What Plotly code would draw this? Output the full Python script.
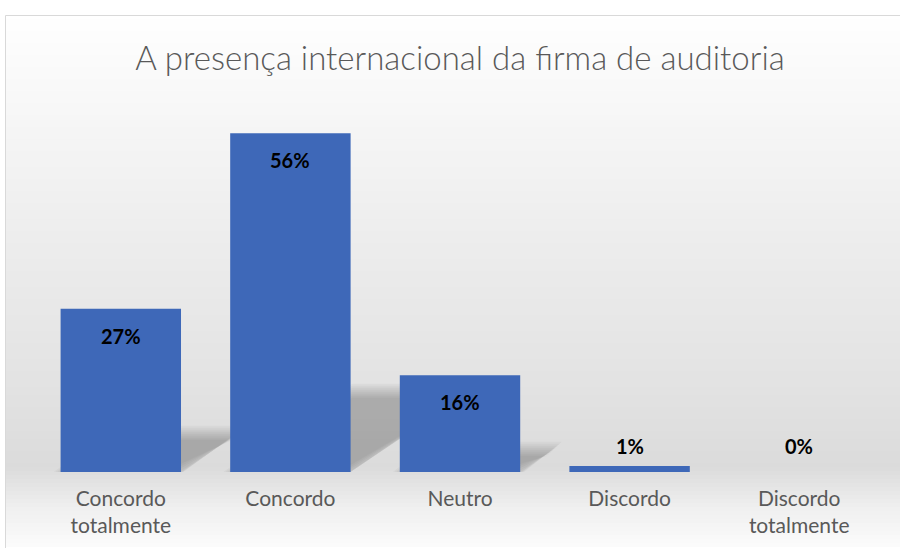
import plotly.graph_objects as go

categories = ["Concordo<br>totalmente", "Concordo", "Neutro", "Discordo", "Discordo<br>totalmente"]
values = [27, 56, 16, 1, 0]
labels = ["27%", "56%", "16%", "1%", "0%"]

# plot area geometry (px) used for the backdrop shapes
W, H = 900, 548
L, R, T, B = 36, 16, 100, 76
plot_h = H - T - B
plot_w = W - L - R
px_per_unit = 6.05
y_top = plot_h / px_per_unit
bargap = 0.29
half = (1 - bargap) / 2


def py(p):
    return (H - B - p) / plot_h


def px(p):
    return (p - L) / plot_w


# soft vertical gradient behind the chart (white -> light grey -> white)
stops = [(15, 255), (120, 246), (250, 236), (380, 227), (468, 219), (480, 225), (510, 240), (548, 252)]


def grey_at(yp):
    for (y0, c0), (y1, c1) in zip(stops, stops[1:]):
        if y0 <= yp <= y1:
            return c0 + (c1 - c0) * (yp - y0) / (y1 - y0)
    return 255


shapes = []
step = 4
for yp in range(15, H, step):
    g = int(round(grey_at(yp + step / 2)))
    shapes.append(dict(type="rect", xref="paper", yref="paper", layer="below",
                       x0=px(5), x1=px(W + 5), y0=py(yp + step), y1=py(yp),
                       fillcolor=f"rgb({g},{g},{g})", line=dict(width=0)))
shapes.append(dict(type="rect", xref="paper", yref="paper", layer="below",
                   x0=px(5.5), x1=px(W + 5), y0=py(H + 5), y1=py(15.5),
                   fillcolor="rgba(0,0,0,0)", line=dict(color="#d9d9d9", width=1)))

# soft perspective shadows cast by the bars onto the back wall (layered to fake a blur)
cat_px = plot_w / len(categories)
for i, v in enumerate(values):
    shp = 0.24 * v * px_per_unit
    if shp < 5:
        continue
    dxp = 1.5 * shp
    x0p, x1p = (i - half) * cat_px, (i + half) * cat_px
    pts = [(x0p, 0), (x1p, 0), (x1p + dxp, shp), (x0p + dxp, shp)]
    cx = sum(p[0] for p in pts) / 4
    cy = sum(p[1] for p in pts) / 4
    span_x = x1p - x0p + dxp
    for o in [7, 5, 3, 1, -1, -3, -5, -7]:
        sx = (span_x + 2 * o) / span_x
        sy = max((shp + 2 * o) / shp, 0.08)
        q = [((cx + (x - cx) * sx) / cat_px, max(cy + (y - cy) * sy, 0) / px_per_unit) for x, y in pts]
        path = "M" + " L".join(f"{a:.4f},{b:.4f}" for a, b in q) + " Z"
        shapes.append(dict(type="path", xref="x", yref="y", layer="below", path=path,
                           fillcolor="rgba(0,0,0,0.03)", line=dict(width=0)))

fig = go.Figure()
fig.add_trace(go.Bar(x=list(range(len(categories))), y=values,
                     marker=dict(color="#3e68b8", line=dict(width=0)),
                     hovertext=categories, hoverinfo="text+y"))

annotations = []
for i, (v, lab) in enumerate(zip(values, labels)):
    shift = -27 if v >= 5 else 26 - v * px_per_unit
    annotations.append(dict(x=i, y=v, text=f"<b>{lab}</b>", showarrow=False, yshift=shift,
                            font=dict(family="Lato", size=20, color="#000000")))

fig.update_layout(
    width=W, height=H,
    margin=dict(l=L, r=R, t=T, b=B),
    paper_bgcolor="white",
    plot_bgcolor="rgba(0,0,0,0)",
    bargap=bargap,
    showlegend=False,
    title=dict(text="A presença internacional da firma de auditoria", xref="paper", x=0.5,
               xanchor="center", y=1 - 58 / H, yanchor="middle",
               font=dict(family="Lato", size=33, color="#595959", weight=300)),
    xaxis=dict(showgrid=False, zeroline=False, showline=False, ticks="", ticklabelstandoff=12,
               tickmode="array", tickvals=list(range(len(categories))), ticktext=categories,
               range=[-0.5, len(categories) - 0.5],
               tickfont=dict(family="Lato", size=21, color="#595959")),
    yaxis=dict(range=[0, y_top], visible=False, showgrid=False, zeroline=False),
    shapes=shapes,
    annotations=annotations,
)

fig.write_html("out.html", config={"displayModeBar": False},
               post_script="document.body.style.margin='0';document.body.style.overflow='hidden';")
